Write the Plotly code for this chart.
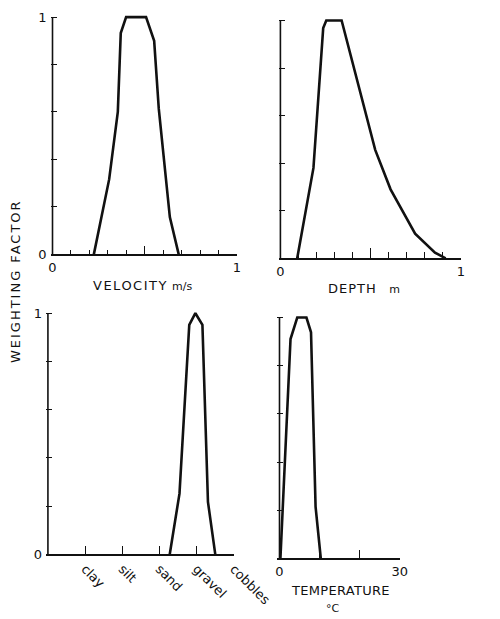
import plotly.graph_objects as go

# ---------------- data ----------------
vel_x = [0.224, 0.307, 0.354, 0.370, 0.399, 0.507, 0.551, 0.576, 0.636, 0.684]
vel_y = [0.0, 0.316, 0.60, 0.933, 1.0, 1.0, 0.90, 0.614, 0.157, 0.0]

depth_x = [0.093, 0.183, 0.237, 0.254, 0.339, 0.525, 0.610, 0.746, 0.856, 0.915]
depth_y = [0.0, 0.38, 0.968, 1.0, 1.0, 0.456, 0.29, 0.104, 0.024, 0.0]

sub_x = [3.276, 3.539, 3.802, 3.967, 4.156, 4.305, 4.502]
sub_y = [0.0, 0.252, 0.952, 1.0, 0.952, 0.218, 0.0]
sub_cats = ["clay", "silt", "sand", "gravel", "cobbles"]
sub_pos = [1, 2, 3, 4, 5]

temp_x = [0.23, 2.75, 4.43, 6.72, 7.86, 9.0, 10.3]
temp_y = [0.0, 0.911, 1.0, 1.0, 0.939, 0.214, 0.0]

wf_ticks = [0, 0.2, 0.4, 0.6, 0.8, 1.0]
wf_labels = ["0", "", "", "", "", "1"]

# ---------------- layout helpers ----------------
W, H = 500, 619
FONT = "DejaVu Sans"
BLACK = "#111111"


def fx(p):
    return p / W


def fy(p):
    return 1 - p / H


fig = go.Figure()

curves = [
    (vel_x, vel_y, "x", "y", 0.0),
    (depth_x, depth_y, "x2", "y2", 0.0),
    (sub_x, sub_y, "x3", "y3", 0.0),
    (temp_x, temp_y, "x4", "y4", 0.0),
]
for xs, ys, xa, ya, x0 in curves:
    fig.add_trace(go.Scatter(x=xs, y=ys, xaxis=xa, yaxis=ya, mode="lines",
                             line=dict(color=BLACK, width=2.6), hoverinfo="skip"))
    # vertical axis line at x = 0, weighting 0 to 1
    fig.add_trace(go.Scatter(x=[x0, x0], y=[0, 1], xaxis=xa, yaxis=ya, mode="lines",
                             line=dict(color=BLACK, width=1.6), hoverinfo="skip"))

common_x = dict(showgrid=False, zeroline=False, showline=True, linecolor=BLACK,
                linewidth=1.5, ticks="inside", tickcolor=BLACK, tickwidth=1.4,
                tickfont=dict(family=FONT, size=13, color=BLACK), fixedrange=True)
common_y = dict(showgrid=False, zeroline=False, showline=False, ticks="inside",
                tickcolor=BLACK, tickwidth=1.4, ticklen=6, range=[0, 1.03],
                tickvals=wf_ticks, tickfont=dict(family=FONT, size=13, color=BLACK),
                fixedrange=True)

minor01 = dict(tickvals=[0.1, 0.2, 0.3, 0.4, 0.6, 0.7, 0.8, 0.9], ticks="inside",
               ticklen=5, tickcolor=BLACK, tickwidth=1.3)

fig.update_layout(
    width=W, height=H, margin=dict(l=0, r=0, t=0, b=0), autosize=False,
    paper_bgcolor="white", plot_bgcolor="white", showlegend=False,
    # velocity
    xaxis=dict(common_x, domain=[fx(53), fx(256)], range=[-0.01, 1.0], anchor="y",
               tickvals=[0, 0.5, 1], ticktext=["0", "", "1"], ticklen=9, minor=minor01),
    yaxis=dict(common_y, domain=[fy(257.7), fy(10.1)], anchor="x",
               ticktext=wf_labels, ticklabelstandoff=3),
    # depth
    xaxis2=dict(common_x, domain=[fx(301.3), 1.0], range=[-0.01, 1.0], anchor="y2",
                tickvals=[0, 0.5, 1], ticktext=["0", "", "1"], ticklen=11,
                minor=dict(minor01, ticklen=7)),
    yaxis2=dict(common_y, domain=[fy(261.7), fy(13.5)], anchor="x2",
                ticktext=["", "", "", "", "", ""]),
    # substrate
    xaxis3=dict(common_x, domain=[fx(48), fx(252.5)], range=[-0.05, 5.0], anchor="y3",
                tickvals=sub_pos, ticktext=sub_cats, tickangle=45, ticklen=9),
    yaxis3=dict(common_y, domain=[fy(561.7), fy(310)], anchor="x3",
                ticktext=wf_labels, ticklabelstandoff=3),
    # temperature
    xaxis4=dict(common_x, domain=[fx(300.1), fx(433.3)], range=[-0.5, 30], anchor="y4",
                tickvals=[0, 10, 20, 30], ticktext=["0", "", "", "30"], ticklen=9),
    yaxis4=dict(common_y, domain=[fy(565.7), fy(314.4)], anchor="x4",
                ticktext=["", "", "", "", "", ""]),
)

ann_font = dict(family=FONT, size=13, color=BLACK)
annotations = [
    dict(text="<span style='letter-spacing:1.5px'>VELOCITY</span> "
              "<span style='font-size:11px'>m/s</span>",
         x=fx(97), y=fy(289), xanchor="left", yanchor="middle"),
    dict(text="<span style='letter-spacing:1px'>DEPTH</span>   "
              "<span style='font-size:11px'>m</span>",
         x=fx(353), y=fy(292), xanchor="left", yanchor="middle"),
    dict(text="<span style='letter-spacing:0.3px'>TEMPERATURE</span>",
         x=fx(313), y=fy(598), xanchor="left", yanchor="middle"),
    dict(text="°C", x=fx(361), y=fy(616), xanchor="center", yanchor="middle",
         font=dict(family=FONT, size=11, color=BLACK)),
    dict(text="<span style='letter-spacing:2px'>WEIGHTING FACTOR</span>",
         x=fx(15), y=fy(285), xanchor="center", yanchor="middle", textangle=-90),
]
for a in annotations:
    a.setdefault("font", ann_font)
    a.update(xref="paper", yref="paper", showarrow=False)
fig.update_layout(annotations=annotations)

fig.write_html("out.html")
